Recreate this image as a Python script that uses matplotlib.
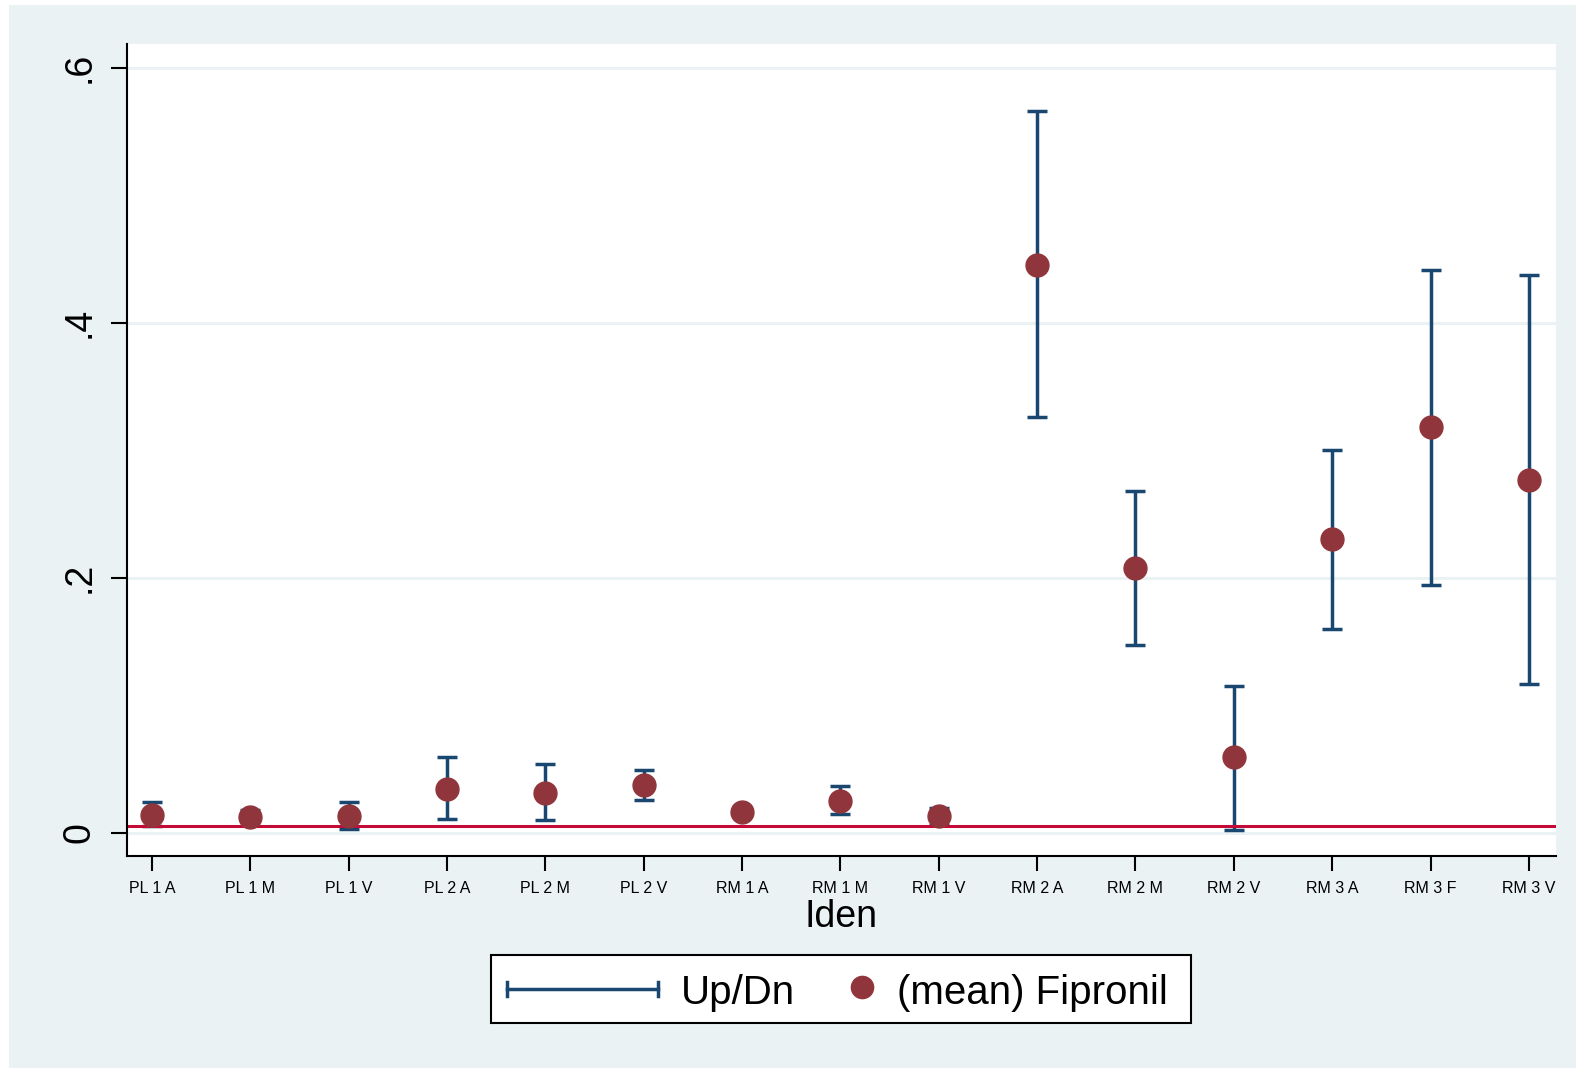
import matplotlib
matplotlib.use("Agg")
import matplotlib.pyplot as plt
from matplotlib.patches import Rectangle
import numpy as np

plt.rcParams['font.family'] = ['Liberation Sans', 'DejaVu Sans']

# ---- data ----
categories = ["PL 1 A", "PL 1 M", "PL 1 V", "PL 2 A", "PL 2 M", "PL 2 V",
              "RM 1 A", "RM 1 M", "RM 1 V", "RM 2 A", "RM 2 M", "RM 2 V",
              "RM 3 A", "RM 3 F", "RM 3 V"]
mean_fipronil = [0.014, 0.0125, 0.0133, 0.0345, 0.0314, 0.0376,
                 0.0165, 0.025, 0.013, 0.4456, 0.2074, 0.059,
                 0.230, 0.318, 0.277]
upper = [0.024, 0.018, 0.024, 0.059, 0.054, 0.049,
         0.020, 0.0367, 0.0196, 0.566, 0.268, 0.115,
         0.300, 0.4416, 0.4377]
lower = [0.005, 0.008, 0.003, 0.011, 0.010, 0.026,
         0.013, 0.015, 0.0063, 0.326, 0.1475, 0.0024,
         0.160, 0.194, 0.1167]
ref_line = 0.005
y_ticks = [0, 0.2, 0.4, 0.6]
y_ticklabels = ["0", ".2", ".4", ".6"]

NAVY = "#1a476f"
MAROON = "#90353b"
RED = "#c40a36"
BG = "#eaf2f3"

W, H = 1576, 1068
fig = plt.figure(figsize=(W / 100, H / 100), dpi=100)
fig.patch.set_facecolor("white")
fig.add_artist(Rectangle((9 / W, 0), 1 - 9 / W, (H - 5) / H,
                         transform=fig.transFigure, facecolor=BG,
                         edgecolor="none", zorder=-10))

# plot area in pixels: left 127, right 1556, top 44, bottom 856
L, R, T, B = 127, 1556, 44, 856
ax = fig.add_axes([L / W, (H - B) / H, (R - L) / W, (B - T) / H])
ax.set_facecolor("white")

x = np.arange(len(categories))
mean_arr = np.array(mean_fipronil)
up_arr = np.array(upper)
lo_arr = np.array(lower)

for yv in y_ticks:
    ax.axhline(yv, color=BG, lw=2.2, zorder=0.5)

ax.errorbar(x, mean_arr, yerr=[mean_arr - lo_arr, up_arr - mean_arr],
            fmt="none", ecolor=NAVY, elinewidth=2.5, capsize=7.5,
            capthick=2.5, zorder=2)
ax.axhline(ref_line, color=RED, lw=2.2, zorder=2.5)
ax.plot(x, mean_arr, linestyle="none", marker="o", markersize=16.5,
        markerfacecolor=MAROON, markeredgecolor=MAROON, zorder=3)

ax.set_xlim(-0.254, 14.276)
ax.set_ylim(-0.0183, 0.6186)
ax.set_xticks(x)
ax.set_xticklabels(categories, fontsize=11.5)
ax.set_yticks(y_ticks)
ax.set_yticklabels(y_ticklabels, fontsize=27, rotation=90, va="center")
ax.tick_params(axis="x", length=11, width=1.5, pad=7, color="black")
ax.tick_params(axis="y", length=11.5, width=1.5, pad=10, color="black")
for s in ["top", "right"]:
    ax.spines[s].set_visible(False)
for s in ["left", "bottom"]:
    ax.spines[s].set_linewidth(1.5)
    ax.spines[s].set_color("black")

ax.set_xlabel("Iden", fontsize=27, labelpad=2)

# ---- legend (drawn in pixel coordinates on an overlay axes) ----
lg = fig.add_axes([0, 0, 1, 1], facecolor="none")
lg.set_xlim(0, W)
lg.set_ylim(H, 0)
lg.axis("off")
lg.add_patch(Rectangle((491, 955), 700, 68, facecolor="white",
                       edgecolor="black", lw=1.5))
ly = 989
lg.plot([507, 658], [ly, ly], color=NAVY, lw=2.5)
lg.plot([507, 507], [ly - 7, ly + 7], color=NAVY, lw=2.5)
lg.plot([658, 658], [ly - 7, ly + 7], color=NAVY, lw=2.5)
lg.text(681, ly + 4, "Up/Dn", fontsize=29, va="center", ha="left")
lg.plot([862], [ly - 2], marker="o", markersize=16, color=MAROON,
        linestyle="none")
lg.text(897, ly + 4, "(mean) Fipronil", fontsize=29, va="center", ha="left")

fig.savefig("out.png", dpi=100, facecolor=fig.get_facecolor())
